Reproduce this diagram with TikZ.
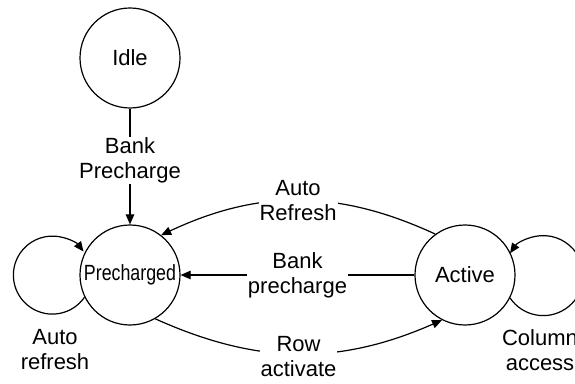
\documentclass[tikz,border=0pt]{standalone}
\usepackage{fontspec}
\setmainfont{Liberation Sans}
\newfontfamily\narrowfont[FakeStretch=0.81]{Liberation Sans}
\usetikzlibrary{arrows.meta}
\begin{document}
\begin{tikzpicture}[x=1pt,y=1pt,
  line width=1.2pt,
  state/.style={draw, circle, minimum size=100pt, inner sep=0pt},
  txt/.style={font=\fontsize{22}{25}\selectfont, align=center, inner sep=1pt},
  lbl/.style={txt, fill=white},
  arr/.style={-{Triangle[length=10pt,width=8.5pt]}}
]
\clip (0,0) rectangle (575,383);
\fill[white] (0,0) rectangle (575,383);

% states
\node[state, txt] (idle) at (130,325) {Idle};
\node[state, txt, font=\narrowfont\fontsize{22}{25}\selectfont] (pre) at (130,108) {Precharged};
\node[state, txt] (act) at (465,108) {Active};

% Idle -> Precharged
\draw[arr] (idle) -- node[lbl, pos=0.45] {Bank\\Precharge} (pre);

% Active -> Precharged (auto refresh)
\draw[arr] (act.126) to[bend right=25] node[lbl] {Auto\\Refresh} (pre.52);

% Active -> Precharged (bank precharge)
\draw[arr] (act) -- node[lbl] {Bank\\precharge} (pre);

% Precharged -> Active (row activate)
\draw[arr] (pre.-60) to[bend right=24] node[lbl, yshift=-3pt] {Row\\activate} (act.-117);

% self loops
\draw[arr] (pre.206.2) arc[start angle=-34.5, end angle=-323, radius=39];
\draw[arr] (act.333.6) arc[start angle=214, end angle=506, radius=40];

% loop labels
\node[txt] (arlbl) at (55,33) {Auto\\refresh};
\node[txt] (calbl) at (540,33) {Column\\access};
\end{tikzpicture}
\end{document}
